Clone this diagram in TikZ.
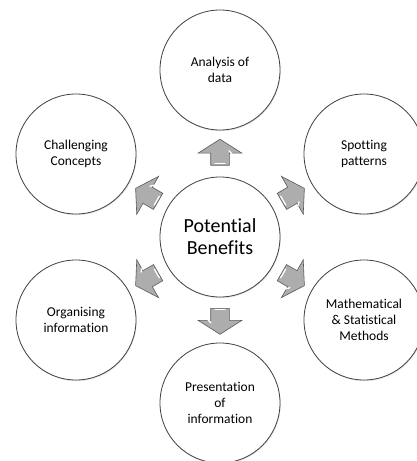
\documentclass[tikz,border=0pt]{standalone}
\usepackage{fontspec}
\setmainfont{Carlito}[Ligatures=NoCommon]
\usetikzlibrary{shapes.arrows,calc,shadows}

\begin{document}
\begin{tikzpicture}[x=1pt,y=-1pt] % one unit = one pixel of the original
\tikzstyle{bigcirc} = [circle, draw=black!75, line width=0.8pt, fill=white, minimum size=120pt, inner sep=0pt, align=center, drop shadow={opacity=0.18, shadow xshift=0.8pt, shadow yshift=-1.2pt}] % circle style
\tikzstyle{midtext} = [font=\fontsize{20}{22}\selectfont] % text in the middle
\tikzstyle{smalltext} = [font=\fontsize{13.5}{16}\selectfont] % text round it
\tikzstyle{blockarr} = [single arrow, draw=black!65, fill=black!32, line width=0.6pt, minimum height=26pt, inner sep=9pt, single arrow head extend=12.5pt, single arrow tip angle=115] % grey block arrow
\tikzstyle{shine} = [white, line width=1.3pt, line cap=round] % glossy streak

\useasboundingbox (0,0) rectangle (417,461);
\clip (0,0) rectangle (417,461);
%
\node[bigcirc, midtext] (pb) at (220,237) {Potential\\Benefits};
\node[bigcirc, smalltext] (data) at (220,70) {Analysis of\\data};
\node[bigcirc, smalltext] (spot) at (364,154) {Spotting\\patterns};
\node[bigcirc, smalltext] (math) at (364,320) {Mathematical\\\& Statistical\\Methods};
\node[bigcirc, smalltext] (pres) at (220,403) {Presentation\\of\\information};
\node[bigcirc, smalltext] (org) at (76,320) {Organising\\information};
\node[bigcirc, smalltext] (chal) at (76,154) {Challenging\\Concepts};
%
\foreach \n/\a in {data/90, spot/30, math/-30, pres/-90, org/210, chal/150} {
  \node[blockarr, rotate=\a] (arr-\n) at ($(pb)!0.49!(\n)$) {};
  \begin{scope}[shift={(arr-\n.center)}, rotate=\a]
    \draw[shine] (-8.5pt,-5pt) -- (-8.5pt,5pt);
    \draw[shine] (1.5pt,-12pt) -- (4.5pt,-9pt);
  \end{scope}
}
\end{tikzpicture}
\end{document}
